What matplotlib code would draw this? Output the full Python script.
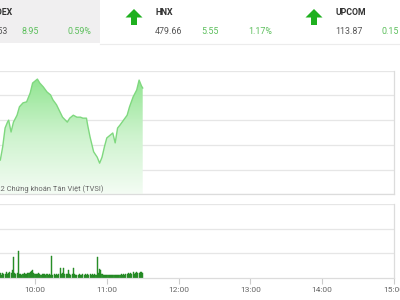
import matplotlib
matplotlib.use("Agg")
import matplotlib.pyplot as plt
import numpy as np
from matplotlib.patches import Rectangle, Polygon
from matplotlib.colors import LinearSegmentedColormap
from matplotlib import font_manager

plt.rcParams['font.family'] = ['Roboto', 'DejaVu Sans']

# ---------------- data ----------------
price_times = ["09:15", "09:22", "09:31", "09:33", "09:35", "09:37", "09:38", "09:40",
               "09:42", "09:45", "09:47", "09:50", "09:53", "09:56", "09:58", "10:02",
               "10:04", "10:07", "10:10", "10:13", "10:15", "10:18", "10:21", "10:23",
               "10:27", "10:29", "10:32", "10:35", "10:38", "10:40", "10:43", "10:44",
               "10:46", "10:48", "10:49", "10:52", "10:54", "10:56", "10:58", "11:00",
               "11:03", "11:05", "11:07", "11:09", "11:11", "11:14", "11:17", "11:19",
               "11:22", "11:25", "11:27", "11:29", "11:30"]
price_values = [1514.0, 1512.7, 1511.9, 1514.6, 1518.4, 1519.6, 1520.0, 1517.6,
                1519.6, 1521.0, 1522.7, 1523.5, 1523.7, 1525.5, 1527.5, 1528.3,
                1527.5, 1526.7, 1525.7, 1525.1, 1524.1, 1523.1, 1521.6, 1520.6,
                1519.6, 1520.4, 1521.0, 1520.6, 1520.6, 1520.4, 1520.4, 1519.0,
                1516.6, 1514.6, 1513.6, 1512.5, 1511.3, 1512.5, 1514.6, 1516.4,
                1517.0, 1517.4, 1515.4, 1518.4, 1519.0, 1520.0, 1521.0, 1522.7,
                1524.7, 1526.1, 1528.1, 1526.9, 1526.5]

vol_start = "09:15"
volumes = [0.25, 0.2, 0.18, 0.22, 0.15, 0.2, 0.17, 0.14, 0.19, 0.16, 0.21, 0.15, 0.18, 0.13, 0.17,
           0.15, 0.18, 0.12, 0.2, 0.14, 0.16, 0.22, 0.15, 0.18, 0.25, 0.2, 0.3, 0.85, 0.2, 0.15,
           0.18, 1.09, 0.14, 0.17, 0.13, 0.15, 0.19, 0.14, 0.16, 0.2, 0.18, 0.22, 0.26, 0.3, 0.2,
           0.17, 0.15, 0.14, 0.18, 0.16, 0.13, 0.15, 0.14, 0.17, 0.12, 0.14, 0.13, 0.15, 0.12, 0.89,
           0.12, 0.14, 0.13, 0.15, 0.12, 0.16, 0.4, 0.15, 0.2, 0.38, 0.15, 0.14, 0.16, 0.3, 0.14,
           0.13, 0.15, 0.4, 0.14, 0.12, 0.13, 0.11, 0.14, 0.12, 0.13, 0.15, 0.12, 0.14, 0.13, 0.16,
           0.12, 0.14, 0.13, 0.15, 0.12, 0.14, 0.13, 0.86, 0.2, 0.36, 0.3, 0.14, 0.12, 0.1, 0.11,
           0.1, 0.09, 0.1, 0.11, 0.09, 0.1, 0.12, 0.1, 0.11, 0.13, 0.12, 0.11, 0.14, 0.12, 0.15,
           0.13, 0.16, 0.14, 0.18, 0.15, 0.2, 0.17, 0.22, 0.16, 0.19, 0.23, 0.18, 0.2, 0.25, 0.22,
           0.2]

tick_labels = ["10:00", "11:00", "12:00", "13:00", "14:00", "15:00"]

header_names = ["VNINDEX", "HNX", "UPCOM"]
header_values = ["1526.53", "479.66", "113.87"]
header_changes = ["8.95", "5.55", "0.15"]
header_pcts = ["0.59%", "1.17%", "0.13%"]
watermark = "©2022 Chứng khoán Tân Việt (TVSI)"

# ---------------- helpers ----------------
def to_min(s):
    h, m = s.split(":")
    return (int(h) - 9) * 60 + int(m)

W, H = 400, 300
def fx(x):
    return x / W
def fy(y):
    return 1 - y / H

installed = {f.name for f in font_manager.fontManager.ttflist}
narrow = ['Liberation Sans Narrow', 'Roboto', 'DejaVu Sans'] if 'Liberation Sans Narrow' in installed \
    else ['Roboto', 'DejaVu Sans']
wm_size = 6.6 if 'Liberation Sans Narrow' in installed else 5.4

fig = plt.figure(figsize=(4, 3), dpi=100)
fig.patch.set_facecolor("white")

# ---------------- header ----------------
fig.patches.append(Rectangle((0, fy(43)), fx(100), 43 / H, transform=fig.transFigure,
                             facecolor="#f0eff0", edgecolor="none", zorder=0))
fig.add_artist(plt.Line2D([fx(100), 1], [fy(43.5), fy(43.5)], transform=fig.transFigure,
                          color="#ececec", lw=0.8))

green_txt = "#5cbf5c"
name_x = [13, 155, 335]
val_x = [8, 155, 335]
chg_x = [21, 201, 381]
pct_x = [91, 272, 452]
for i in range(3):
    if i == 0:
        fig.text(fx(name_x[i]), fy(12.5), header_names[i], ha="right", va="center",
                 fontsize=6.3, fontweight="bold", color="#333333")
        fig.text(fx(val_x[i]), fy(31), header_values[i], ha="right", va="center",
                 fontsize=6.4, color="#555555")
    else:
        fig.text(fx(name_x[i]), fy(12.5), header_names[i], ha="left", va="center",
                 fontsize=6.3, fontweight="bold", color="#333333")
        fig.text(fx(val_x[i]), fy(31), header_values[i], ha="left", va="center",
                 fontsize=6.4, color="#555555")
    fig.text(fx(chg_x[i]), fy(31), header_changes[i], ha="left", va="center",
             fontsize=6.4, color=green_txt)
    fig.text(fx(pct_x[i]), fy(31), header_pcts[i], ha="right", va="center",
             fontsize=6.4, color=green_txt)

# arrows
for cx in [134, 314]:
    pts = [(cx, 9), (cx + 8.5, 17.5), (cx + 3, 17.5), (cx + 3, 25), (cx - 3, 25),
           (cx - 3, 17.5), (cx - 8.5, 17.5)]
    fig.patches.append(Polygon([(fx(a), fy(b)) for a, b in pts], closed=True,
                               transform=fig.transFigure, facecolor="#1fb01f",
                               edgecolor="none"))

# ---------------- axes ----------------
left_px = 35 - 71.8
right_px = 394
ax1 = fig.add_axes([fx(left_px), fy(194.3), (right_px - left_px) / W, (194.3 - 70.7) / H])
ax2 = fig.add_axes([fx(left_px), fy(277.7), (right_px - left_px) / W, (277.7 - 204.3) / H])

grid_c = "#e6e6e6"
for ax in (ax1, ax2):
    ax.set_xlim(0, 360)
    ax.set_facecolor("none")
    for s in ("left", "top"):
        ax.spines[s].set_visible(False)
    ax.spines["right"].set_color("#dcdcdc")
    ax.spines["right"].set_linewidth(0.9)
    ax.spines["bottom"].set_color("#dcdcdc")
    ax.spines["bottom"].set_linewidth(0.9)
    ax.tick_params(axis="y", left=False, labelleft=False)

# price panel
ymin, ymax = 1505, 1530
ax1.set_ylim(ymin, ymax)
ax1.set_yticks(np.arange(1505, 1531, 5))
ax1.grid(axis="y", color=grid_c, lw=0.9)
ax1.set_axisbelow(True)
ax1.tick_params(axis="x", bottom=False, labelbottom=False)

pt = np.array([to_min(t) for t in price_times], dtype=float)
pv = np.array(price_values)
poly = ax1.fill_between(pt, pv, ymin, facecolor="none", edgecolor="none")
cmap = LinearSegmentedColormap.from_list("g", ["#f4fcf4", "#cdf3cd", "#8ee48e"])
grad = np.linspace(0, 1, 256).reshape(-1, 1)
im = ax1.imshow(grad, cmap=cmap, aspect="auto", origin="lower",
                extent=[pt.min(), pt.max(), ymin, 1529], zorder=1)
path = poly.get_paths()[0]
im.set_clip_path(path, transform=ax1.transData)
ax1.plot(pt, pv, color="#7fd87f", lw=1.0, zorder=2)

fig.text(fx(103), fy(189), watermark, ha="right", va="center", fontsize=wm_size,
         family=narrow, color="#666666", zorder=5)

# volume panel
vt = to_min(vol_start) + np.arange(len(volumes))
ax2.set_ylim(0, 3)
ax2.set_yticks([1, 2, 3])
ax2.grid(axis="y", color=grid_c, lw=0.9)
ax2.set_axisbelow(True)
ax2.bar(vt, volumes, width=0.9, color="#2e9a2e", edgecolor="#1f7f1f", linewidth=0.3, zorder=2)
ax2.set_xticks([0] + [to_min(t) for t in tick_labels])
ax2.set_xticklabels([""] + tick_labels)
ax2.tick_params(axis="x", length=4, width=0.8, color="#cccccc", labelsize=6,
                labelcolor="#666666", pad=3)

fig.savefig("out.png", dpi=100)
